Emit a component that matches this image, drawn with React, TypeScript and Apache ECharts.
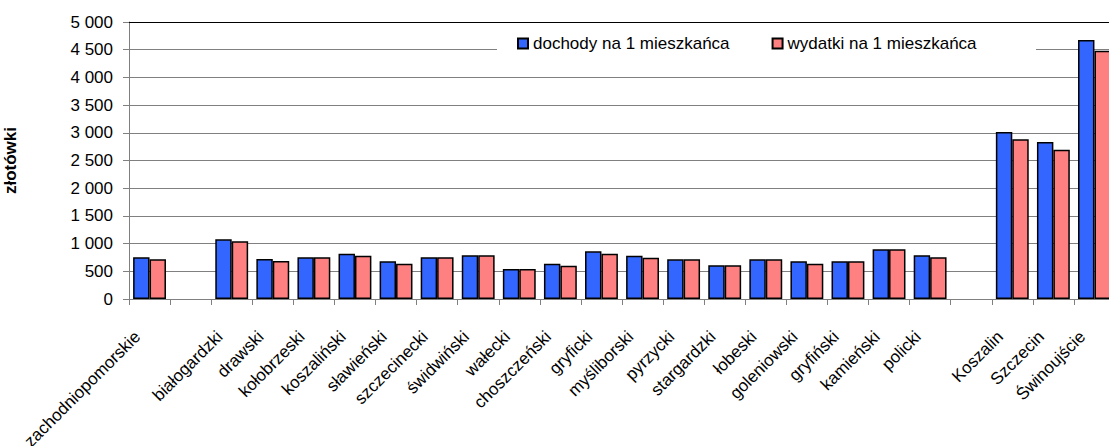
import React, { useEffect, useRef } from "react";
import * as echarts from "echarts";

const categories = [
  "zachodniopomorskie", " ", "białogardzki", "drawski", "kołobrzeski", "koszaliński",
  "sławieński", "szczecinecki", "świdwiński", "wałecki", "choszczeński", "gryficki",
  "myśliborski", "pyrzycki", "stargardzki", "łobeski", "goleniowski", "gryfiński",
  "kamieński", "policki", "  ", "Koszalin", "Szczecin", "Świnoujście",
];
const dochody = [753, null, 1077, 722, 753, 818, 680, 753, 788, 541, 638, 860, 782, 716, 608, 716, 680, 680, 897, 788, null, 3014, 2834, 4675];
const wydatki = [716, null, 1041, 686, 753, 782, 638, 753, 788, 541, 602, 818, 746, 716, 608, 716, 638, 680, 897, 753, null, 2882, 2695, 4480];
const seriesNames = ["dochody na 1 mieszkańca", "wydatki na 1 mieszkańca"];
const yName = "złotówki";

const FONT = 'Arial, "Liberation Sans", sans-serif';

function fmt(v: number) {
  if (v >= 1000) return `${Math.floor(v / 1000)} ${String(v % 1000).padStart(3, "0")}`;
  return String(v);
}

export default function App() {
  const ref = useRef<HTMLDivElement>(null);
  useEffect(() => {
    if (!ref.current) return;
    const chart = echarts.init(ref.current, null, { renderer: "svg" });
    chart.setOption({
      animation: false,
      textStyle: { fontFamily: FONT },
      grid: { left: 129, top: 22, width: 986, height: 277, outerBoundsMode: "none", containLabel: false },
      legend: {
        data: seriesNames,
        left: 517,
        top: 35,
        padding: 0,
        itemWidth: 10,
        itemHeight: 10,
        itemGap: 42,
        icon: "rect",
        z: 10,
        textStyle: { fontSize: 17, color: "#000", fontFamily: FONT },
      },
      graphic: [
        {
          type: "rect",
          z: 5,
          shape: { x: 497, y: 29, width: 539, height: 28 },
          style: { fill: "#fff" },
        },
      ],
      xAxis: {
        type: "category",
        data: categories,
        axisLine: { lineStyle: { color: "#808080", width: 1 } },
        axisTick: { show: true, length: 6, lineStyle: { color: "#808080" } },
        axisLabel: {
          interval: 0,
          rotate: 45,
          margin: 23,
          fontSize: 17,
          color: "#000",
          fontFamily: FONT,
          formatter: (v: string) => (v.trim() ? `${v}{s| }` : ""),
          rich: { s: { width: 17, fontSize: 17 } },
        },
      },
      yAxis: {
        type: "value",
        min: 0,
        max: 5000,
        interval: 500,
        name: yName,
        nameLocation: "middle",
        nameGap: 110,
        nameTextStyle: { fontSize: 17, fontWeight: "bold", color: "#000", fontFamily: FONT },
        axisLine: { show: true, lineStyle: { color: "#808080", width: 1 } },
        axisTick: { show: true, length: 6, lineStyle: { color: "#808080" } },
        axisLabel: { formatter: fmt, fontSize: 17, color: "#000", margin: 16, fontFamily: FONT },
        splitLine: { show: true, lineStyle: { color: "#808080", width: 1 } },
      },
      series: [
        {
          name: seriesNames[0],
          type: "bar",
          data: dochody,
          barGap: "0%",
          barCategoryGap: "20%",
          itemStyle: { color: "#3366FF", borderColor: "#000", borderWidth: 1.5 },
          markLine: {
            silent: true,
            symbol: "none",
            label: { show: false },
            lineStyle: { color: "#000", type: "solid", width: 1 },
            data: [{ yAxis: 5000 }],
          },
        },
        {
          name: seriesNames[1],
          type: "bar",
          data: wydatki,
          itemStyle: { color: "#FF8080", borderColor: "#000", borderWidth: 1.5 },
        },
      ],
    });
    return () => chart.dispose();
  }, []);
  return (
    <div style={{ position: "absolute", left: 0, top: 0, width: 1109, height: 446, overflow: "hidden" }}>
      <div ref={ref} style={{ width: 1130, height: 446 }} />
    </div>
  );
}
